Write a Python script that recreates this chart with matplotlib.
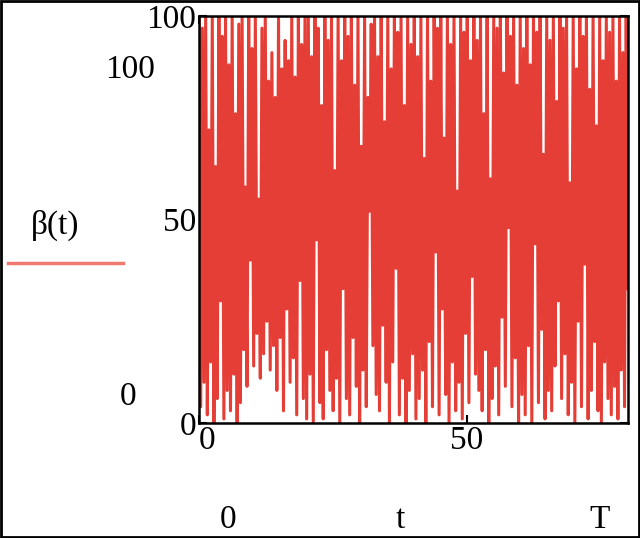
import numpy as np
import matplotlib
matplotlib.use("Agg")
import matplotlib.pyplot as plt
from matplotlib.patches import Rectangle

plt.rcParams['font.family'] = ['Liberation Serif', 'DejaVu Serif']

# β(t) の値（図から目で読んだもの）
beta_seg1 = [100, 4, 97, 10, 100, 2, 72, 15, 100, 0, 63, 6, 100, 30, 95, 1, 100, 8, 88, 3,
             100, 12, 76, 0, 98, 5, 100, 18, 58, 9, 100, 40, 92, 14, 100, 22, 55, 11, 97, 17,
             100, 25, 84, 13, 91, 19, 80, 8, 100, 21, 87, 3, 94, 28, 89, 10, 100, 16, 85, 2,
             100, 35, 93, 6, 100]
beta_seg2 = [1, 100, 12, 90, 0, 100, 45, 97, 5, 78, 1, 100, 18, 94, 8, 100, 3, 62, 11, 100,
             0, 89, 33, 100, 6, 95, 2, 100, 21, 83, 9, 100, 0, 68, 13, 100, 4, 80, 52, 98,
             19, 100, 7, 90, 3, 100, 24, 74, 10, 100, 0, 87, 15, 100, 38, 96, 2, 100, 11, 78,
             0, 100, 8, 93, 17]
beta_seg3 = [100, 1, 90, 6, 100, 13, 65, 0, 100, 20, 84, 4, 100, 42, 97, 2, 100, 28, 70, 7,
             100, 0, 93, 15, 100, 3, 57, 10, 100, 1, 96, 22, 100, 5, 89, 36, 100, 12, 94, 8,
             100, 3, 76, 18, 100, 0, 60, 6, 100, 14, 97, 2, 100, 26, 86, 9, 100, 48, 95, 4,
             100, 16, 83, 0, 100]
beta_seg4 = [7, 92, 2, 100, 19, 88, 0, 100, 44, 96, 5, 100, 23, 66, 1, 100, 8, 94, 3, 100,
             14, 79, 30, 100, 6, 97, 17, 100, 2, 59, 10, 100, 0, 87, 25, 100, 4, 95, 39, 100,
             1, 82, 8, 100, 20, 73, 3, 100, 0, 89, 15, 100, 6, 96, 2, 100, 9, 84, 1, 100,
             13, 91, 4, 100, 33]

T = 80
beta = np.array(beta_seg1 + beta_seg2 + beta_seg3 + beta_seg4, dtype=float)
t = np.linspace(0, T, len(beta))

fig = plt.figure(figsize=(6.4, 5.38), dpi=100)
ax = fig.add_axes([0.311, 0.2138, 0.670, 0.7565])

ax.plot(t, beta, color='#e53e36', lw=2.2)
ax.set_xlim(0, T)
ax.set_ylim(0, 100)

ax.set_xticks([0, 50])
ax.set_yticks([0, 50, 100])
ax.tick_params(direction='in', top=True, right=True, length=6, width=1.5,
               labelsize=24, pad=2)
ax.get_xticklabels()[0].set_ha('left')
for s in ax.spines.values():
    s.set_linewidth(1.8)
    s.set_zorder(5)

# Mathcadふうの注釈
fs = 24
fig.text(130 / 640, 1 - 70 / 538, '100', fontsize=fs, ha='center', va='center')
fig.text(55 / 640, 1 - 225 / 538, 'β(t)', fontsize=fs, ha='center', va='center')
fig.add_artist(plt.Line2D([8 / 640, 123 / 640], [1 - 263 / 538, 1 - 263 / 538],
                          color='#f07a70', lw=2.5))
fig.text(128 / 640, 1 - 397 / 538, '0', fontsize=fs, ha='center', va='center')
fig.text(228 / 640, 1 - 520 / 538, '0', fontsize=fs, ha='center', va='center')
fig.text(400 / 640, 1 - 520 / 538, 't', fontsize=fs, ha='center', va='center')
fig.text(600 / 640, 1 - 520 / 538, 'T', fontsize=fs, ha='center', va='center')

# 外枠
fig.add_artist(Rectangle((0.002, 0.002), 0.996, 0.996, transform=fig.transFigure,
                         fill=False, edgecolor='black', lw=2))

fig.savefig('out.png', dpi=100)
